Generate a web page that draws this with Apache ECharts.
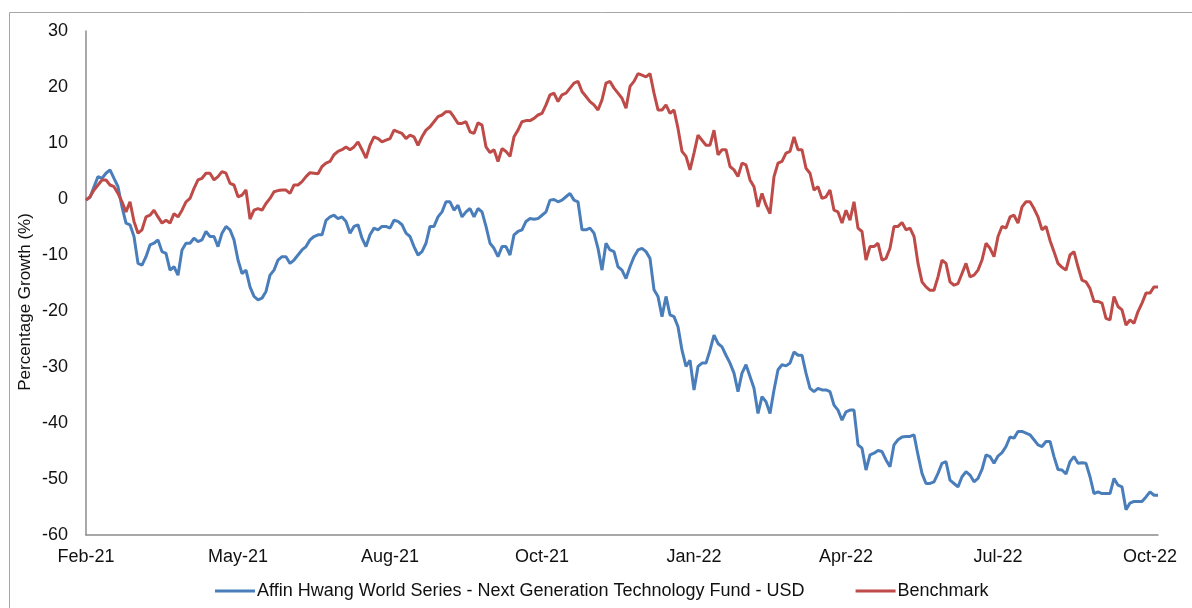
<!DOCTYPE html>
<html>
<head>
<meta charset="utf-8">
<script src="https://cdn.jsdelivr.net/npm/echarts@6/dist/echarts.min.js"></script>
<style>
html,body{margin:0;padding:0;background:#fff;}
#chart{width:1192px;height:608px;}
</style>
</head>
<body>
<div id="chart"></div>
<script>
// Tick labels (shown every labelStep points along the category axis)
var xTickLabels = ['Feb-21', 'May-21', 'Aug-21', 'Oct-21', 'Jan-22', 'Apr-22', 'Jul-22', 'Oct-22'];
var labelStep = 38;

// Fund series (% growth)
var fundValues = [
  -0.2, 0.3, 2.2, 4.0, 3.7, 4.6, 5.2, 3.7, 2.2, -1.4, -4.3, -4.6, -6.7, -11.5, -11.8, -10.3, -8.2, -7.9, -7.3, -9.4, -9.7, -12.7, -12.1, -13.6, -9.1, -7.9, -7.9, -7.0, -7.6, -7.3, -5.8, -6.7, -6.7, -8.5, -6.1, -4.9, -5.5, -7.3, -10.9, -13.3, -12.7, -15.7, -17.4, -18.0, -17.7,
  -16.5, -13.6, -12.7, -10.9, -10.3, -10.3, -11.5, -10.9, -10.0, -9.1, -8.5, -7.3, -6.7, -6.4, -6.4, -3.8, -3.2, -2.9, -3.5, -3.2, -4.0, -6.1, -4.9, -4.6, -7.0, -8.5, -6.4, -5.2, -5.5, -4.9, -4.9, -5.2, -3.8, -4.0, -4.6, -6.1, -6.7, -8.5, -10.0, -9.4, -7.9, -4.9, -4.9, -3.2,
  -2.3, -0.5, -0.5, -2.0, -1.1, -3.2, -2.3, -1.7, -3.2, -1.7, -2.3, -4.9, -7.9, -8.8, -10.3, -8.5, -8.5, -10.0, -6.4, -5.8, -5.5, -4.0, -3.5, -3.6, -3.5, -2.9, -2.3, -0.2, -0.1, -0.5, -0.2, 0.4, 1.0, -0.2, -0.5, -5.5, -5.5, -5.2, -6.1, -8.8, -12.7, -7.9, -9.1, -9.4,
  -12.1, -12.7, -14.2, -12.1, -10.3, -9.1, -8.8, -9.4, -10.6, -16.2, -17.4, -21.0, -17.4, -20.7, -21.0, -22.8, -27.0, -29.9, -28.8, -34.1, -29.9, -29.3, -29.3, -27.0, -24.3, -25.8, -26.4, -27.9, -29.3, -31.1, -34.4, -31.1, -29.6, -31.7, -33.8, -38.3, -35.3, -36.2, -38.3, -34.1, -30.5, -29.6, -29.8, -29.3,
  -27.3, -27.9, -27.9, -31.1, -33.8, -34.4, -33.8, -34.1, -34.1, -34.4, -36.8, -37.7, -39.5, -38.0, -37.7, -37.7, -43.9, -44.5, -48.4, -45.7, -45.4, -44.9, -45.1, -46.6, -47.8, -43.9, -43.0, -42.5, -42.4, -42.4, -42.1, -45.7, -49.0, -50.8, -50.8, -50.5, -49.0, -47.2, -46.9, -50.2, -50.8, -51.4, -49.6, -48.7,
  -49.3, -50.5, -49.9, -48.3, -45.7, -46.0, -47.2, -45.9, -45.3, -44.2, -42.5, -42.7, -41.5, -41.5, -41.8, -42.1, -43.0, -43.9, -44.2, -43.3, -43.3, -46.0, -48.3, -48.4, -49.1, -46.9, -46.0, -47.2, -47.1, -47.2, -49.6, -52.6, -52.3, -52.6, -52.6, -52.6, -49.9, -51.1, -51.4, -55.5, -54.3, -54.0, -54.0, -54.0, -53.2, -52.3, -52.9, -52.9
];

// Benchmark series (% growth)
var benchmarkValues = [
  -0.2, 0.4, 1.6, 2.5, 3.4, 3.4, 2.5, 2.2, 1.0, -0.5, -2.3, -0.5, -4.0, -6.1, -5.5, -3.2, -2.9, -2.0, -3.2, -4.3, -3.8, -4.3, -2.6, -3.2, -2.0, -0.5, 0.1, 1.9, 3.4, 3.7, 4.6, 4.6, 3.4, 4.0, 4.9, 4.6, 2.8, 2.5, 0.4, 0.7, 1.6, -3.6, -2.0, -1.7, -2.0,
  -0.8, 0.1, 1.3, 1.5, 1.6, 1.6, 1.0, 2.5, 2.5, 3.1, 4.0, 4.7, 4.6, 4.5, 5.8, 6.4, 6.7, 7.9, 8.5, 8.8, 9.3, 8.8, 9.3, 10.2, 8.8, 7.3, 9.6, 11.1, 10.8, 10.2, 10.5, 10.8, 12.3, 12.0, 11.7, 10.8, 11.4, 11.1, 9.6, 11.1, 12.3, 12.9, 13.8, 14.7,
  15.0, 15.6, 15.6, 14.6, 13.5, 13.5, 13.8, 12.0, 11.7, 13.6, 13.2, 9.3, 8.3, 8.8, 6.7, 9.0, 8.5, 7.6, 11.1, 12.3, 13.8, 14.0, 14.0, 14.4, 15.0, 15.3, 16.8, 18.6, 18.9, 17.4, 18.6, 18.9, 19.8, 20.7, 21.0, 19.2, 18.3, 17.4, 16.8, 15.9, 17.7, 20.7, 21.0, 19.8,
  18.9, 18.0, 16.2, 20.1, 21.0, 22.4, 22.1, 21.8, 22.4, 18.9, 15.9, 15.9, 16.8, 15.3, 15.9, 12.6, 8.5, 7.6, 5.2, 8.2, 11.4, 10.5, 9.6, 9.6, 12.3, 7.9, 8.8, 8.8, 5.8, 5.2, 4.0, 6.4, 6.1, 3.4, 2.2, -1.4, 1.0, -1.1, -2.6, 4.0, 6.4, 6.7, 8.2, 8.5,
  11.1, 8.8, 8.8, 5.5, 4.6, 1.6, 2.2, 0.1, 0.4, 1.6, -2.0, -2.3, -4.3, -2.0, -3.8, -0.5, -5.2, -5.8, -10.9, -8.5, -8.5, -7.9, -10.9, -10.6, -8.8, -4.9, -4.9, -4.2, -5.5, -5.2, -6.7, -11.5, -14.8, -15.7, -16.3, -16.3, -13.9, -10.9, -11.5, -14.8, -15.4, -15.1, -13.3, -11.5,
  -13.9, -13.6, -12.7, -10.9, -7.9, -8.8, -10.3, -6.7, -4.9, -5.2, -3.2, -2.9, -4.3, -1.4, -0.5, -0.5, -1.7, -3.2, -5.5, -4.9, -7.4, -9.4, -11.5, -12.2, -12.7, -10.0, -9.4, -12.1, -14.5, -14.8, -16.0, -18.3, -18.3, -18.6, -21.3, -21.6, -17.4, -19.2, -19.8, -22.5, -21.6, -22.2, -20.1, -18.6, -16.8, -16.8, -15.7, -15.7
];

var seriesNames = ['Affin Hwang World Series - Next Generation Technology Fund - USD', 'Benchmark'];
var yTicks = { min: -60, max: 30, interval: 10 };

var categories = fundValues.map(function (_, i) {
  return (i % labelStep === 0 && xTickLabels[i / labelStep]) ? xTickLabels[i / labelStep] : String(i);
});

var FONT = '"Liberation Sans", Arial, sans-serif';
var chart = echarts.init(document.getElementById('chart'), null, { renderer: 'canvas' });
chart.setOption({
  animation: false,
  backgroundColor: '#ffffff',
  textStyle: { fontFamily: FONT },
  grid: { left: 86, top: 31, width: 1072, height: 504, containLabel: false },
  legend: {
    data: seriesNames,
    left: 215,
    top: 582,
    padding: 0,
    itemWidth: 40,
    itemHeight: 3,
    itemGap: 51,
    icon: 'rect',
    textStyle: { fontFamily: FONT, fontSize: 18, color: '#111111', padding: [0, 0, 0, -3] }
  },
  xAxis: {
    type: 'category',
    data: categories,
    boundaryGap: false,
    axisLine: { show: true, onZero: false, lineStyle: { color: '#8c8c8c', width: 1.5 } },
    axisTick: { show: false },
    splitLine: { show: false },
    axisLabel: {
      interval: function (index) { return index % labelStep === 0; },
      margin: 13,
      fontFamily: FONT,
      fontSize: 18,
      color: '#111111',
      hideOverlap: false
    }
  },
  yAxis: {
    type: 'value',
    min: yTicks.min,
    max: yTicks.max,
    interval: yTicks.interval,
    axisLine: { show: true, lineStyle: { color: '#8c8c8c', width: 1.5 } },
    axisTick: { show: false },
    splitLine: { show: false },
    axisLabel: { margin: 18, fontFamily: FONT, fontSize: 18, color: '#111111' }
  },
  graphic: [
    {
      type: 'rect',
      shape: { x: 9.5, y: 12.5, width: 1200, height: 620 },
      style: { fill: 'none', stroke: '#a6a6a6', lineWidth: 1 },
      silent: true, z: -1
    },
    {
      type: 'text',
      x: 25, y: 302,
      rotation: Math.PI / 2,
      style: {
        text: 'Percentage Growth (%)',
        fontFamily: FONT, fontSize: 17, fill: '#111111',
        align: 'center', verticalAlign: 'middle'
      },
      silent: true
    }
  ],
  series: [
    {
      name: seriesNames[0],
      type: 'line',
      data: fundValues,
      showSymbol: false,
      symbol: 'none',
      color: '#4a7ebb',
      lineStyle: { color: '#4a7ebb', width: 3 },
      z: 2
    },
    {
      name: seriesNames[1],
      type: 'line',
      data: benchmarkValues,
      showSymbol: false,
      symbol: 'none',
      color: '#be4b48',
      lineStyle: { color: '#be4b48', width: 3 },
      z: 3
    }
  ]
});
</script>
</body>
</html>
